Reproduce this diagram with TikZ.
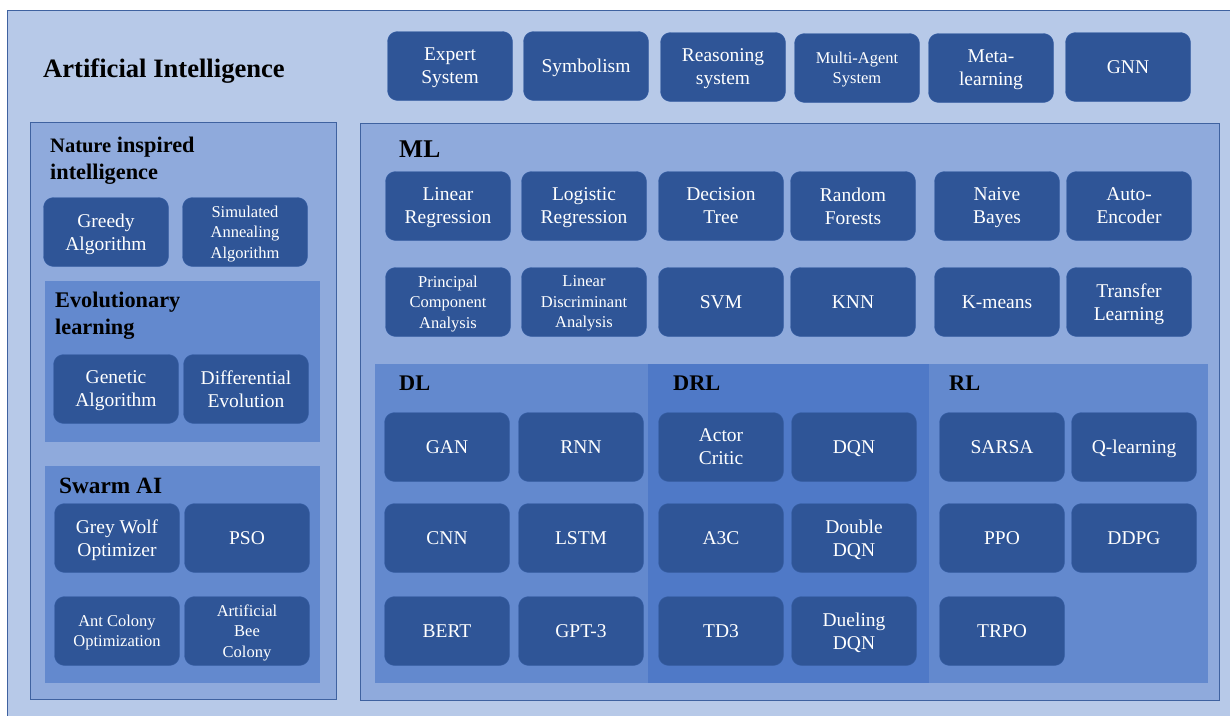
\documentclass[tikz,border=0pt]{standalone}
\usepackage{fontspec}
\setmainfont{Liberation Serif}
\definecolor{aiback}{HTML}{B7C9E8}
\definecolor{midback}{HTML}{8FAADC}
\definecolor{innerback}{HTML}{6389CE}
\definecolor{drlback}{HTML}{4F79C7}
\definecolor{aiedge}{HTML}{3F62A0}
\definecolor{algofill}{HTML}{2F5597}
\definecolor{algoedge}{HTML}{3A62A8}
\begin{document}
\begin{tikzpicture}[x=1pt,y=-1pt,
algo/.style={draw=algoedge, fill=algofill, rounded corners=10pt, minimum width=125pt, minimum height=69pt, inner sep=2pt, text depth=0pt, text=white, align=center, font=\fontsize{19.5}{23}\selectfont},
small/.style={font=\fontsize{16.5}{20.5}\selectfont},
head/.style={anchor=base west, align=left, inner sep=0pt, font=\bfseries\fontsize{22.3}{27}\selectfont}]
\clip (0,0) rectangle (1230,715);
% frames
\draw [aiedge, fill=aiback] (7,10) rectangle (1240,740);
\draw [aiedge, fill=midback] (30,122) rectangle (336,699);
\fill [innerback] (45,281) rectangle (320,442);
\fill [innerback] (45,466) rectangle (320,683);
\draw [aiedge, fill=midback] (360,123) rectangle (1219,700);
\fill [innerback] (375,364) rectangle (648,683);
\fill [drlback] (648,364) rectangle (929,683);
\fill [innerback] (929,364) rectangle (1208,683);
% titles (base = last line)
\node [head, font=\bfseries\fontsize{26.6}{30}\selectfont] (ai) at (43,77) {Artificial Intelligence};
\node [head] (nature) at (50,179) {{\fontsize{20.5}{27}\selectfont Nature} inspired\\intelligence};
\node [head] (evo) at (55,334) {Evolutionary\\learning};
\node [head, font=\bfseries\fontsize{23.3}{27}\selectfont] (swarm) at (59,493) {Swarm AI};
\node [head, font=\bfseries\fontsize{25.5}{30}\selectfont] (ml) at (399,157) {ML};
\node [head] (dl) at (399,390) {DL};
\node [head] (drl) at (673,390) {DRL};
\node [head] (rl) at (949,390) {RL};
% top row
\node [algo] (expert) at (450,66) {Expert\\System};
\node [algo] (symbolism) at (586,66) {Symbolism};
\node [algo] (reasoning) at (723,67) {Reasoning\\system};
\node [algo, small] (multiagent) at (857,68) {Multi-Agent\\System};
\node [algo] (meta) at (991,68) {Meta-\\learning};
\node [algo] (gnn) at (1128,67) {GNN};
% nature inspired
\node [algo] (greedy) at (106,232) {Greedy\\Algorithm};
\node [algo, small] (annealing) at (245,232) {Simulated\\Annealing\\Algorithm};
\node [algo] (genetic) at (116,389) {Genetic\\Algorithm};
\node [algo] (differential) at (246,389) {Differential\\Evolution};
\node [algo] (greywolf) at (117,538) {Grey Wolf\\Optimizer};
\node [algo] (pso) at (247,538) {PSO};
\node [algo, small] (antcolony) at (117,631) {Ant Colony\\Optimization};
\node [algo, small] (beecolony) at (247,631) {Artificial\\Bee\\Colony};
% ML
\node [algo] (linreg) at (448,206) {Linear\\Regression};
\node [algo] (logreg) at (584,206) {Logistic\\Regression};
\node [algo] (dtree) at (721,206) {Decision\\Tree};
\node [algo] (forest) at (853,206) {Random\\Forests};
\node [algo] (bayes) at (997,206) {Naive\\Bayes};
\node [algo] (autoenc) at (1129,206) {Auto-\\Encoder};
\node [algo, small] (pca) at (448,302) {Principal\\Component\\Analysis};
\node [algo, small] (lda) at (584,302) {Linear\\Discriminant\\Analysis};
\node [algo] (svm) at (721,302) {SVM};
\node [algo] (knn) at (853,302) {KNN};
\node [algo] (kmeans) at (997,302) {K-means};
\node [algo] (transfer) at (1129,302) {Transfer\\Learning};
% DL, DRL, RL
\node [algo] (gan) at (447,447) {GAN};
\node [algo] (rnn) at (581,447) {RNN};
\node [algo] (actor) at (721,447) {Actor\\Critic};
\node [algo] (dqn) at (854,447) {DQN};
\node [algo] (sarsa) at (1002,447) {SARSA};
\node [algo] (qlearn) at (1134,447) {Q-learning};
\node [algo] (cnn) at (447,538) {CNN};
\node [algo] (lstm) at (581,538) {LSTM};
\node [algo] (athreec) at (721,538) {A3C};
\node [algo] (doubledqn) at (854,538) {Double\\DQN};
\node [algo] (ppo) at (1002,538) {PPO};
\node [algo] (ddpg) at (1134,538) {DDPG};
\node [algo] (bert) at (447,631) {BERT};
\node [algo] (gpt) at (581,631) {GPT-3};
\node [algo] (tdthree) at (721,631) {TD3};
\node [algo] (dueling) at (854,631) {Dueling\\DQN};
\node [algo] (trpo) at (1002,631) {TRPO};
\end{tikzpicture}
\end{document}
